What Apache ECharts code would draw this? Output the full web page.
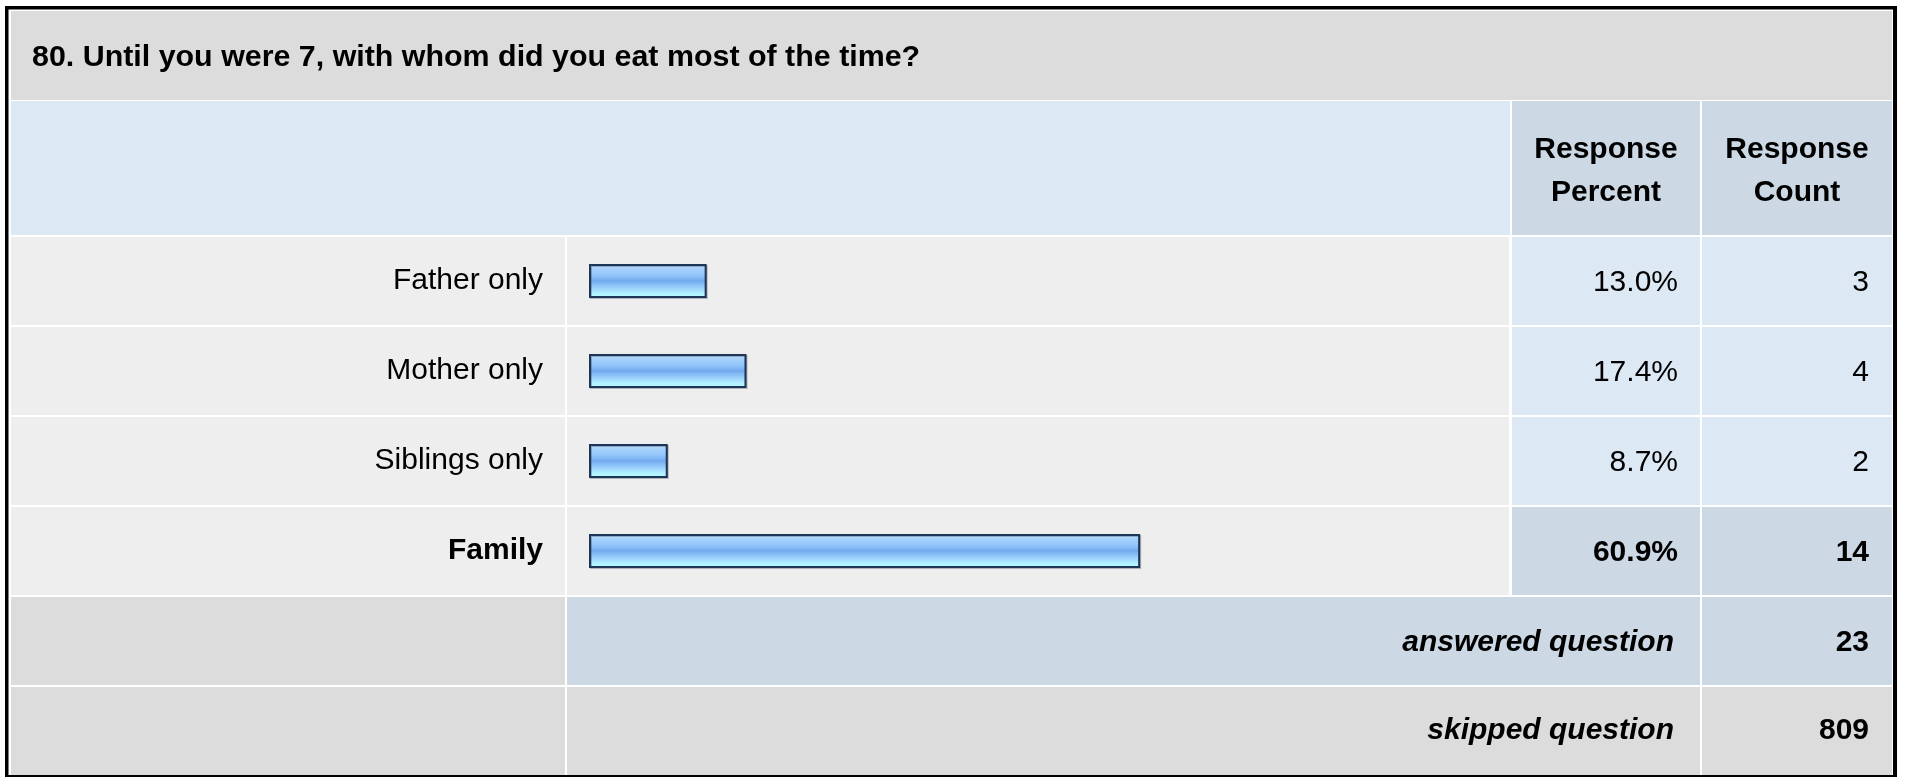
<!DOCTYPE html>
<html>
<head>
<meta charset="utf-8">
<title>Survey question 80</title>
<script src="https://cdn.jsdelivr.net/npm/echarts@6/dist/echarts.min.js"></script>
<style>
  html, body { margin: 0; padding: 0; background: #ffffff; }
  #chart { width: 1907px; height: 777px; }
</style>
</head>
<body>
<div id="chart"></div>
<script>
// Question text and answer options
const questionTitle = '80. Until you were 7, with whom did you eat most of the time?';
const categories = ['Father only', 'Mother only', 'Siblings only', 'Family'];
const responsePercent = [13.0, 17.4, 8.7, 60.9];
const responseCount = [3, 4, 2, 14];
const highlightedAnswer = 'Family';
const headerPercent = ['Response', 'Percent'];
const headerCount = ['Response', 'Count'];
const answeredLabel = 'answered question';
const answeredCount = 23;
const skippedLabel = 'skipped question';
const skippedCount = 809;

const FONT = '"Liberation Sans", Arial, Helvetica, sans-serif';
const C_TITLE = '#dcdcdc';
const C_LIGHT = '#dde8f5';
const C_DARK = '#cdd8e5';
const C_ROW = '#eeeeee';

// table geometry
const X0 = 11, X_SEP1 = 565, X_BAR = 567, X_BAR_END = 1509, X_PCT = 1511, X_PCT_END = 1700, X_CNT = 1702, X1 = 1892;
const ROW_TOP = 236, ROW_H = 90;

const chart = echarts.init(document.getElementById('chart'), null, { renderer: 'canvas' });

function rect(x, y, w, h, fill) {
  return { type: 'rect', z: 0, silent: true, shape: { x: x, y: y, width: w, height: h }, style: { fill: fill } };
}
function text(str, x, y, align, font, extra) {
  return {
    type: 'text', z: 10, silent: true,
    style: Object.assign({
      text: str, x: x, y: y, fill: '#000000', font: font,
      textAlign: align, textVerticalAlign: 'middle', verticalAlign: 'middle'
    }, extra || {})
  };
}

const elems = [];
// outer frame
elems.push(rect(5, 6, 1892, 772, '#000000'));
elems.push(rect(8.5, 9.5, 1884.5, 765.5, '#ffffff'));
// title band
elems.push(rect(X0, 11, X1 - X0, 89, C_TITLE));
elems.push(text(questionTitle, 32, 58, 'left', 'bold 30.4px ' + FONT));
// header band
elems.push(rect(X0, 101, X_BAR_END + 1 - X0, 134, C_LIGHT));
elems.push(rect(X_PCT + 1, 101, X_PCT_END - X_PCT - 1, 134, C_DARK));
elems.push(rect(X_CNT, 101, X1 - X_CNT, 134, C_DARK));
elems.push(text(headerPercent.join('\n'), 1606, 171, 'center', 'bold 30px ' + FONT, { lineHeight: 43 }));
elems.push(text(headerCount.join('\n'), 1797, 171, 'center', 'bold 30px ' + FONT, { lineHeight: 43 }));

// answer rows
categories.forEach(function (name, i) {
  const top = ROW_TOP + 1 + i * ROW_H;
  const h = ROW_H - 2;
  const hi = name === highlightedAnswer;
  elems.push(rect(X0, top, X_SEP1 - X0, h, C_ROW));
  elems.push(rect(X_BAR, top, X_BAR_END - X_BAR, h, C_ROW));
  elems.push(rect(X_PCT + 1, top, X_PCT_END - X_PCT - 1, h, hi ? C_DARK : C_LIGHT));
  elems.push(rect(X_CNT, top, X1 - X_CNT, h, hi ? C_DARK : C_LIGHT));
  const cy = top + h / 2 + 2;
  const f = (hi ? 'bold ' : '') + '30px ' + FONT;
  elems.push(text(responsePercent[i].toFixed(1) + '%', 1678, cy, 'right', f));
  elems.push(text(String(responseCount[i]), 1869, cy, 'right', f));
});

// summary rows
const yAns = ROW_TOP + 1 + categories.length * ROW_H;
elems.push(rect(X0, yAns, X_SEP1 - X0, 88, C_TITLE));
elems.push(rect(X_BAR, yAns, X_PCT_END - X_BAR, 88, C_DARK));
elems.push(rect(X_CNT, yAns, X1 - X_CNT, 88, C_DARK));
elems.push(text(answeredLabel, 1674, yAns + 46, 'right', 'italic bold 30px ' + FONT));
elems.push(text(String(answeredCount), 1869, yAns + 46, 'right', 'bold 30px ' + FONT));
const ySkip = yAns + ROW_H;
elems.push(rect(X0, ySkip, X_SEP1 - X0, 88, C_TITLE));
elems.push(rect(X_BAR, ySkip, X_PCT_END - X_BAR, 88, C_TITLE));
elems.push(rect(X_CNT, ySkip, X1 - X_CNT, 88, C_TITLE));
elems.push(text(skippedLabel, 1674, ySkip + 44, 'right', 'italic bold 30px ' + FONT));
elems.push(text(String(skippedCount), 1869, ySkip + 44, 'right', 'bold 30px ' + FONT));

const barFill = new echarts.graphic.LinearGradient(0, 0, 0, 1, [
  { offset: 0.00, color: '#c6e3fc' },
  { offset: 0.14, color: '#a7d1fc' },
  { offset: 0.30, color: '#96c8fb' },
  { offset: 0.42, color: '#82b8f4' },
  { offset: 0.50, color: '#72a9ec' },
  { offset: 0.60, color: '#87bff6' },
  { offset: 0.72, color: '#9fd3fb' },
  { offset: 0.86, color: '#b0f1fe' },
  { offset: 1.00, color: '#b6ffff' }
]);

chart.setOption({
  animation: false,
  backgroundColor: '#ffffff',
  graphic: { elements: elems },
  grid: { left: 589, top: ROW_TOP, width: 905, height: ROW_H * categories.length, containLabel: false },
  xAxis: { type: 'value', min: 0, max: 100, show: false },
  yAxis: {
    type: 'category',
    inverse: true,
    z: 10,
    data: categories.map(function (c) {
      return c === highlightedAnswer ? { value: c, textStyle: { fontWeight: 'bold' } } : c;
    }),
    axisLine: { show: false },
    axisTick: { show: false },
    splitLine: { show: false },
    axisLabel: { color: '#000000', fontSize: 30, fontFamily: FONT, margin: 46, padding: [5, 0, 0, 0] }
  },
  series: [{
    type: 'bar',
    z: 5,
    data: responsePercent,
    barWidth: 34,
    itemStyle: {
      color: barFill,
      borderColor: '#1d3658',
      borderWidth: 2,
      shadowColor: 'rgba(60,70,90,0.35)',
      shadowOffsetX: 1,
      shadowOffsetY: 1,
      shadowBlur: 0
    },
    silent: true
  }]
});
</script>
</body>
</html>
